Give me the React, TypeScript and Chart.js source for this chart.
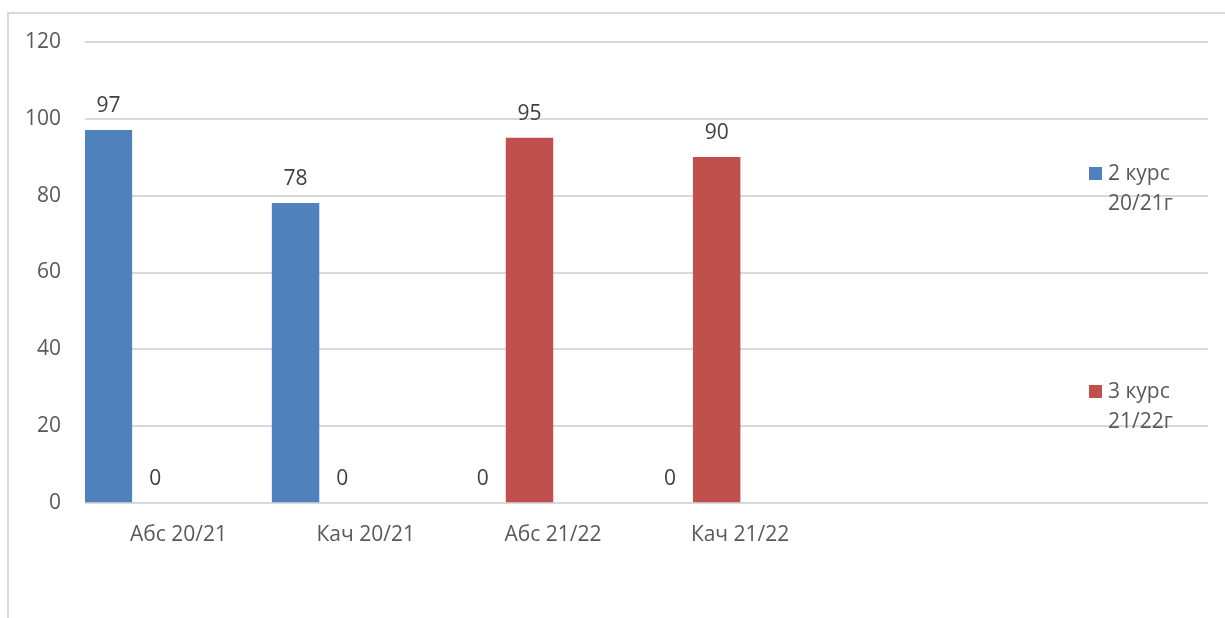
import React, { useEffect, useRef } from "react";
import { Chart, registerables } from "chart.js";

Chart.register(...registerables);

const categories = ["Абс 20/21", "Кач 20/21", "Абс 21/22", "Кач 21/22", "", ""];
const series2Label = "2 курс 20/21г";
const series3Label = "3 курс 21/22г";
const series2Values = [97, 78, 0, 0, null, null];
const series3Values = [0, 0, 95, 90, null, null];
const emptySeriesA = [null, null, null, null, null, null];
const emptySeriesB = [null, null, null, null, null, null];
const legendLines = [
  ["2 курс", "20/21г"],
  ["3 курс", "21/22г"],
];
const yTicks = [0, 20, 40, 60, 80, 100, 120];

const BLUE = "#4f81bd";
const RED = "#c0504d";
const FONT = "'Open Sans', 'Noto Sans', sans-serif";
const FONT_SIZE = 21;

function barColor(color: string) {
  return (c: any) => (c.raw === 0 || c.raw === null ? "rgba(0,0,0,0)" : color);
}

export default function App() {
  const ref = useRef<HTMLCanvasElement | null>(null);

  useEffect(() => {
    const canvas = ref.current;
    if (!canvas) return;

    const borderPlugin = {
      id: "outerBorder",
      beforeDraw(chart: any) {
        const ctx = chart.ctx;
        ctx.save();
        ctx.strokeStyle = "#d9d9d9";
        ctx.lineWidth = 2;
        ctx.beginPath();
        ctx.moveTo(8, 700);
        ctx.lineTo(8, 13);
        ctx.lineTo(1300, 13);
        ctx.stroke();
        ctx.restore();
      },
    };

    const dataLabelPlugin = {
      id: "dataLabels",
      afterDatasetsDraw(chart: any) {
        const ctx = chart.ctx;
        ctx.save();
        ctx.font = `${FONT_SIZE}px ${FONT}`;
        ctx.fillStyle = "#404040";
        ctx.textAlign = "center";
        ctx.textBaseline = "alphabetic";
        chart.data.datasets.forEach((ds: any, i: number) => {
          const meta = chart.getDatasetMeta(i);
          meta.data.forEach((el: any, j: number) => {
            const v = ds.data[j];
            if (v === null || v === undefined) return;
            ctx.fillText(String(v), el.x, el.y - 18);
          });
        });
        ctx.restore();
      },
    };

    const legendPlugin = {
      id: "sideLegend",
      afterDraw(chart: any) {
        const ctx = chart.ctx;
        const entries = [
          { color: BLUE, lines: legendLines[0], y: 167 },
          { color: RED, lines: legendLines[1], y: 385 },
        ];
        ctx.save();
        ctx.font = `${FONT_SIZE}px ${FONT}`;
        ctx.textAlign = "left";
        ctx.textBaseline = "alphabetic";
        entries.forEach((e) => {
          ctx.fillStyle = e.color;
          ctx.fillRect(1089, e.y, 13, 13);
          ctx.fillStyle = "#595959";
          e.lines.forEach((line: string, k: number) => {
            ctx.fillText(line, 1108, e.y + 13 + k * 30);
          });
        });
        ctx.restore();
      },
    };

    const chart = new Chart(canvas, {
      type: "bar",
      data: {
        labels: categories,
        datasets: [
          { label: series2Label, data: series2Values, backgroundColor: barColor(BLUE) },
          { label: series3Label, data: series3Values, backgroundColor: barColor(RED) },
          { label: "", data: emptySeriesA, backgroundColor: BLUE },
          { label: "", data: emptySeriesB, backgroundColor: RED },
        ],
      },
      options: {
        responsive: false,
        animation: false,
        devicePixelRatio: 1,
        layout: { padding: { top: 42, right: 17, left: 0, bottom: 0 } },
        datasets: {
          bar: { categoryPercentage: 1, barPercentage: 1, borderWidth: 0 },
        },
        plugins: {
          legend: { display: false },
          tooltip: { enabled: false },
        },
        scales: {
          x: {
            grid: { display: false, drawTicks: false },
            border: { display: false },
            ticks: {
              color: "#595959",
              font: { family: FONT, size: FONT_SIZE },
              padding: 19,
              maxRotation: 0,
              autoSkip: false,
            },
            afterFit(scale: any) {
              scale.height = 115;
            },
          },
          y: {
            min: 0,
            max: 120,
            grid: { color: "#d9d9d9", lineWidth: 2, drawTicks: false },
            border: { display: false },
            afterBuildTicks(scale: any) {
              scale.ticks = yTicks.map((v) => ({ value: v }));
            },
            ticks: {
              color: "#595959",
              font: { family: FONT, size: FONT_SIZE },
              padding: 24,
            },
            afterFit(scale: any) {
              scale.width = 85;
            },
          },
        },
      },
      plugins: [borderPlugin, dataLabelPlugin, legendPlugin],
    });

    return () => chart.destroy();
  }, []);

  return (
    <canvas
      ref={ref}
      width={1225}
      height={618}
      style={{ position: "fixed", left: 0, top: 0, width: 1225, height: 618 }}
    />
  );
}
